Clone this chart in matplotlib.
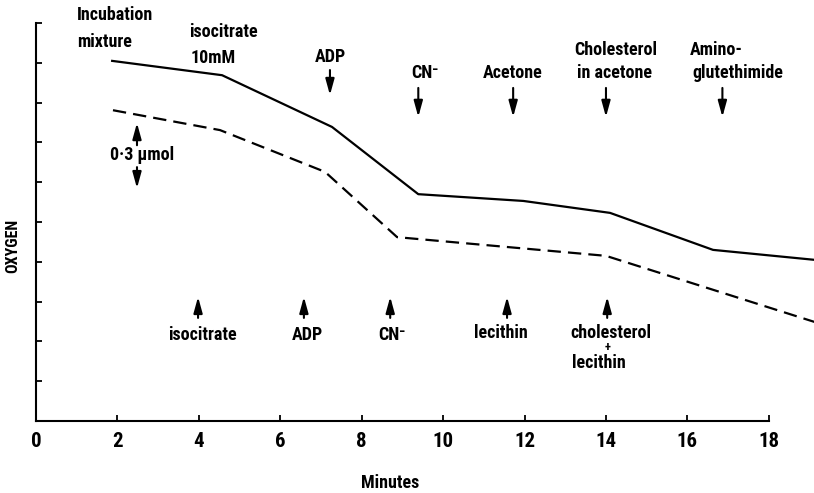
import matplotlib
matplotlib.use('Agg')
import matplotlib.pyplot as plt

# oxygen trace, minutes vs. arbitrary oxygen units (break points of each trace)
solid_t = [1.87, 4.57, 7.27, 9.39, 11.97, 14.10, 16.63, 19.12]
solid_o = [9.05, 8.69, 7.39, 5.70, 5.53, 5.23, 4.30, 4.05]
dashed_t = [1.89, 4.52, 7.10, 8.87, 14.00, 19.12]
dashed_o = [7.81, 7.31, 6.26, 4.62, 4.15, 2.49]

minute_ticks = list(range(0, 19, 2))
oxygen_ticks = list(range(1, 11))

# additions to the solid trace (arrows pointing down, labels above)
top_adds_t = [7.22, 9.39, 11.72, 14.00, 16.86]
# additions to the dashed trace (arrows pointing up, labels below)
bottom_adds_t = [3.98, 6.58, 8.70, 11.57, 14.03]

FONT = ['Roboto Condensed', 'DejaVu Sans']
FS = 13
FW = 'bold'

fig = plt.figure(figsize=(8.14, 4.93), dpi=100)
ax = fig.add_axes([0, 0, 1, 1])
ax.set_xlim(-0.885, 19.11)
ax.set_ylim(-1.81, 10.58)

ax.plot(solid_t, solid_o, color='black', lw=1.6, solid_joinstyle='round')
ax.plot(dashed_t, dashed_o, color='black', lw=1.6, linestyle=(0, (6.0, 3.2)))

# axes drawn as open frame from origin
for side in ['top', 'right']:
    ax.spines[side].set_visible(False)
ax.spines['left'].set_position(('data', 0))
ax.spines['bottom'].set_position(('data', 0))
ax.spines['left'].set_bounds(0, 10)
ax.spines['bottom'].set_bounds(0, 18)
ax.spines['left'].set_linewidth(1.5)
ax.spines['bottom'].set_linewidth(1.5)
ax.set_xticks(minute_ticks)
ax.set_xticklabels([str(t) for t in minute_ticks], family=FONT, fontsize=15, fontweight=FW)
ax.set_yticks(oxygen_ticks)
ax.set_yticklabels([])
ax.tick_params(direction='in', length=4.5, width=1.3, pad=8)

ax.text(8.7, -1.57, 'Minutes', family=FONT, fontsize=FS, fontweight=FW, ha='center', va='center')
ax.text(-0.57, 4.4, 'OXYGEN', family=FONT, fontsize=11.5, fontweight='bold',
        rotation=90, ha='center', va='center')


def arrow(x, y_tail, y_tip):
    ax.annotate('', xy=(x, y_tip), xytext=(x, y_tail),
                arrowprops=dict(arrowstyle='-|>,head_width=0.22,head_length=0.8',
                                lw=1.5, color='black', mutation_scale=12,
                                shrinkA=0, shrinkB=0))


def label(x, y, s, ha='center'):
    ax.text(x, y, s, family=FONT, fontsize=FS, fontweight=FW, ha=ha, va='center')


# labels above the traces
label(1.01, 10.20, 'Incubation', ha='left')
label(1.01, 9.52, 'mixture', ha='left')
label(3.76, 9.77, 'isocitrate', ha='left')
label(3.80, 9.12, '10mM', ha='left')
label(top_adds_t[0], 9.15, 'ADP')
label(top_adds_t[1] + 0.15, 8.74, 'CN\u207b')
label(top_adds_t[2], 8.74, 'Acetone')
label(14.23, 9.32, 'Cholesterol')
label(14.20, 8.74, 'in acetone')
label(16.07, 9.32, 'Amino-', ha='left')
label(16.12, 8.74, 'glutethimide', ha='left')

arrow(top_adds_t[0], 8.82, 8.19)
for t in top_adds_t[1:]:
    arrow(t, 8.37, 7.64)

# scale bar between the traces
arrow(2.48, 6.93, 7.49)
label(1.82, 6.68, '0\u00b73 \u03bcmol', ha='left')
arrow(2.48, 6.38, 5.85)

# labels below the traces
for t in bottom_adds_t:
    arrow(t, 2.59, 3.12)
label(4.08, 2.16, 'isocitrate')
label(6.66, 2.16, 'ADP')
label(8.75, 2.16, 'CN\u207b')
label(11.42, 2.21, 'lecithin')
label(13.12, 2.21, 'cholesterol', ha='left')
ax.text(14.05, 1.85, '+', family=FONT, fontsize=9, fontweight='bold', ha='center', va='center')
label(13.17, 1.46, 'lecithin', ha='left')

fig.savefig('out.png', dpi=100)
